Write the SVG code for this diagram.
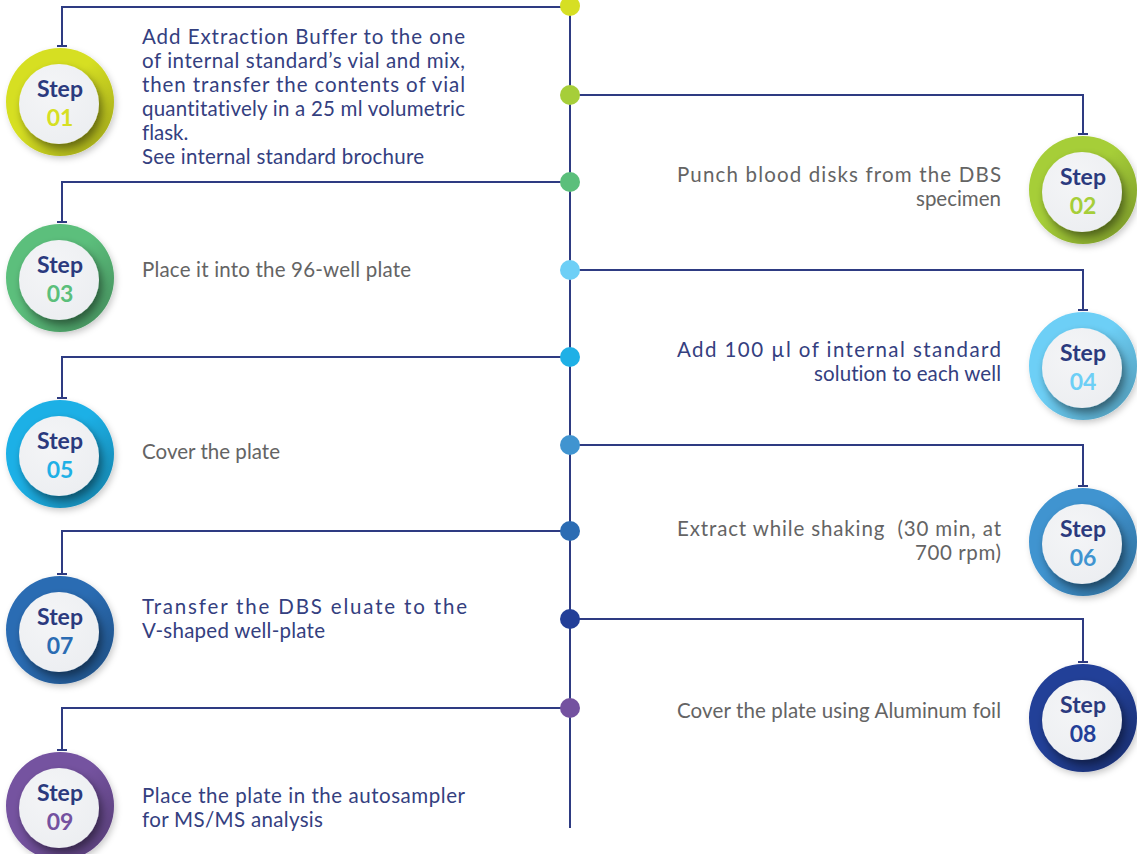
<svg xmlns="http://www.w3.org/2000/svg" width="1137" height="854" viewBox="0 0 1137 854">
<style>
.conn{fill:none;stroke:#2e3b82;stroke-width:2}
.ring-shade{fill:url(#shade)}
.inner{fill:url(#innerg);filter:url(#ish)}
.step{font-family:Lato,"Noto Sans",sans-serif;font-weight:700;font-size:23px;fill:#2b3a7e;text-anchor:middle}
.num{font-family:Lato,"Noto Sans",sans-serif;font-weight:700;font-size:23px;text-anchor:middle}
.txt{font-family:Lato,"Noto Sans",sans-serif;font-size:20.5px;font-variant-ligatures:none}
.navy{fill:#34407f}
.gray{fill:#646464}
</style>
<defs>
<linearGradient id="shade" x1="0" y1="0" x2="1" y2="1">
<stop offset="0.45" stop-color="#000" stop-opacity="0"/>
<stop offset="1" stop-color="#000" stop-opacity="0.28"/>
</linearGradient>
<radialGradient id="innerg" cx="0.4" cy="0.35" r="0.7">
<stop offset="0" stop-color="#f4f5f7"/>
<stop offset="1" stop-color="#eceef1"/>
</radialGradient>
<filter id="ish" x="-40%" y="-40%" width="180%" height="180%">
<feDropShadow dx="3" dy="5" stdDeviation="4" flood-color="#000" flood-opacity="0.45"/>
</filter>
<filter id="osh" x="-30%" y="-30%" width="160%" height="160%">
<feDropShadow dx="2" dy="3" stdDeviation="3" flood-color="#000" flood-opacity="0.2"/>
</filter>
<marker id="tbar" markerWidth="12" markerHeight="12" refX="1" refY="6" orient="auto" markerUnits="userSpaceOnUse">
<path d="M1,1 V11" stroke="#2e3b82" stroke-width="2" fill="none"/>
</marker>
</defs>

<g id="connectors">
<path class="conn" d="M570,0 V828"/>
<path class="conn" marker-end="url(#tbar)" d="M570,7 H62 V46"/>
<path class="conn" marker-end="url(#tbar)" d="M570,95 H1083 V134"/>
<path class="conn" marker-end="url(#tbar)" d="M570,182 H62 V222"/>
<path class="conn" marker-end="url(#tbar)" d="M570,270 H1083 V310"/>
<path class="conn" marker-end="url(#tbar)" d="M570,357 H62 V398"/>
<path class="conn" marker-end="url(#tbar)" d="M570,445 H1083 V486"/>
<path class="conn" marker-end="url(#tbar)" d="M570,531 H62 V574"/>
<path class="conn" marker-end="url(#tbar)" d="M570,619 H1083 V662"/>
<path class="conn" marker-end="url(#tbar)" d="M570,708 H62 V750"/>
</g>

<g id="dots">
<circle cx="570" cy="6" r="10" fill="#d6df23"/>
<circle cx="570" cy="95" r="10" fill="#a6ce39"/>
<circle cx="570" cy="182" r="10" fill="#5bbf7b"/>
<circle cx="570" cy="270" r="10" fill="#6dcff6"/>
<circle cx="570" cy="357" r="10" fill="#1fb0e6"/>
<circle cx="570" cy="445" r="10" fill="#4094d0"/>
<circle cx="570" cy="531" r="10" fill="#2b6cb3"/>
<circle cx="570" cy="619" r="10" fill="#233f98"/>
<circle cx="570" cy="708" r="10" fill="#7452a0"/>
</g>

<g id="step01">
<circle cx="60" cy="102" r="54" fill="#d6df23" filter="url(#osh)"/>
<circle class="ring-shade" cx="60" cy="102" r="54"/>
<circle class="inner" cx="59" cy="104" r="40"/>
<text class="step" x="60" y="97">Step</text>
<text class="num" x="60" y="126" fill="#d6df23">01</text>
<text class="txt navy" x="142" y="44" textLength="323" lengthAdjust="spacing">Add Extraction Buffer to the one</text>
<text class="txt navy" x="142" y="68" textLength="323" lengthAdjust="spacing">of internal standard’s vial and mix,</text>
<text class="txt navy" x="142" y="92" textLength="323" lengthAdjust="spacing">then transfer the contents of vial</text>
<text class="txt navy" x="142" y="116" textLength="323" lengthAdjust="spacing">quantitatively in a 25 ml volumetric</text>
<text class="txt navy" x="142" y="140">flask.</text>
<text class="txt navy" x="142" y="164" textLength="282" lengthAdjust="spacing">See internal standard brochure</text>
</g>

<g id="step02">
<circle cx="1083" cy="190" r="54" fill="#a6ce39" filter="url(#osh)"/>
<circle class="ring-shade" cx="1083" cy="190" r="54"/>
<circle class="inner" cx="1082" cy="192" r="40"/>
<text class="step" x="1083" y="185">Step</text>
<text class="num" x="1083" y="214" fill="#a6ce39">02</text>
<text class="txt gray" x="677" y="182" textLength="324" lengthAdjust="spacing">Punch blood disks from the DBS</text>
<text class="txt gray" x="916" y="206" textLength="85" lengthAdjust="spacing">specimen</text>
</g>

<g id="step03">
<circle cx="60" cy="278" r="54" fill="#5bbf7b" filter="url(#osh)"/>
<circle class="ring-shade" cx="60" cy="278" r="54"/>
<circle class="inner" cx="59" cy="280" r="40"/>
<text class="step" x="60" y="273">Step</text>
<text class="num" x="60" y="302" fill="#5bbf7b">03</text>
<text class="txt gray" x="142" y="277" textLength="269" lengthAdjust="spacing">Place it into the 96-well plate</text>
</g>

<g id="step04">
<circle cx="1083" cy="366" r="54" fill="#6dcff6" filter="url(#osh)"/>
<circle class="ring-shade" cx="1083" cy="366" r="54"/>
<circle class="inner" cx="1082" cy="368" r="40"/>
<text class="step" x="1083" y="361">Step</text>
<text class="num" x="1083" y="390" fill="#6dcff6">04</text>
<text class="txt navy" x="677" y="357" textLength="324" lengthAdjust="spacing">Add 100 µl of internal standard</text>
<text class="txt navy" x="814" y="381" textLength="187" lengthAdjust="spacing">solution to each well</text>
</g>

<g id="step05">
<circle cx="60" cy="454" r="54" fill="#1fb0e6" filter="url(#osh)"/>
<circle class="ring-shade" cx="60" cy="454" r="54"/>
<circle class="inner" cx="59" cy="456" r="40"/>
<text class="step" x="60" y="449">Step</text>
<text class="num" x="60" y="478" fill="#1fb0e6">05</text>
<text class="txt gray" x="142" y="459" textLength="138" lengthAdjust="spacing">Cover the plate</text>
</g>

<g id="step06">
<circle cx="1083" cy="542" r="54" fill="#4094d0" filter="url(#osh)"/>
<circle class="ring-shade" cx="1083" cy="542" r="54"/>
<circle class="inner" cx="1082" cy="544" r="40"/>
<text class="step" x="1083" y="537">Step</text>
<text class="num" x="1083" y="566" fill="#4094d0">06</text>
<text class="txt gray" x="677" y="536" textLength="324" lengthAdjust="spacing">Extract while shaking &#160;(30 min, at</text>
<text class="txt gray" x="915" y="560" textLength="86" lengthAdjust="spacing">700 rpm)</text>
</g>

<g id="step07">
<circle cx="60" cy="630" r="54" fill="#2b6cb3" filter="url(#osh)"/>
<circle class="ring-shade" cx="60" cy="630" r="54"/>
<circle class="inner" cx="59" cy="632" r="40"/>
<text class="step" x="60" y="625">Step</text>
<text class="num" x="60" y="654" fill="#2b6cb3">07</text>
<text class="txt navy" x="142" y="614" textLength="325" lengthAdjust="spacing">Transfer the DBS eluate to the</text>
<text class="txt navy" x="142" y="638" textLength="183" lengthAdjust="spacing">V-shaped well-plate</text>
</g>

<g id="step08">
<circle cx="1083" cy="718" r="54" fill="#233f98" filter="url(#osh)"/>
<circle class="ring-shade" cx="1083" cy="718" r="54"/>
<circle class="inner" cx="1082" cy="720" r="40"/>
<text class="step" x="1083" y="713">Step</text>
<text class="num" x="1083" y="742" fill="#233f98">08</text>
<text class="txt gray" x="677" y="718" textLength="324" lengthAdjust="spacing">Cover the plate using Aluminum foil</text>
</g>

<g id="step09">
<circle cx="60" cy="806" r="54" fill="#7452a0" filter="url(#osh)"/>
<circle class="ring-shade" cx="60" cy="806" r="54"/>
<circle class="inner" cx="59" cy="808" r="40"/>
<text class="step" x="60" y="801">Step</text>
<text class="num" x="60" y="830" fill="#7452a0">09</text>
<text class="txt navy" x="142" y="803" textLength="323" lengthAdjust="spacing">Place the plate in the autosampler</text>
<text class="txt navy" x="142" y="827" textLength="181" lengthAdjust="spacing">for MS/MS analysis</text>
</g>
</svg>
